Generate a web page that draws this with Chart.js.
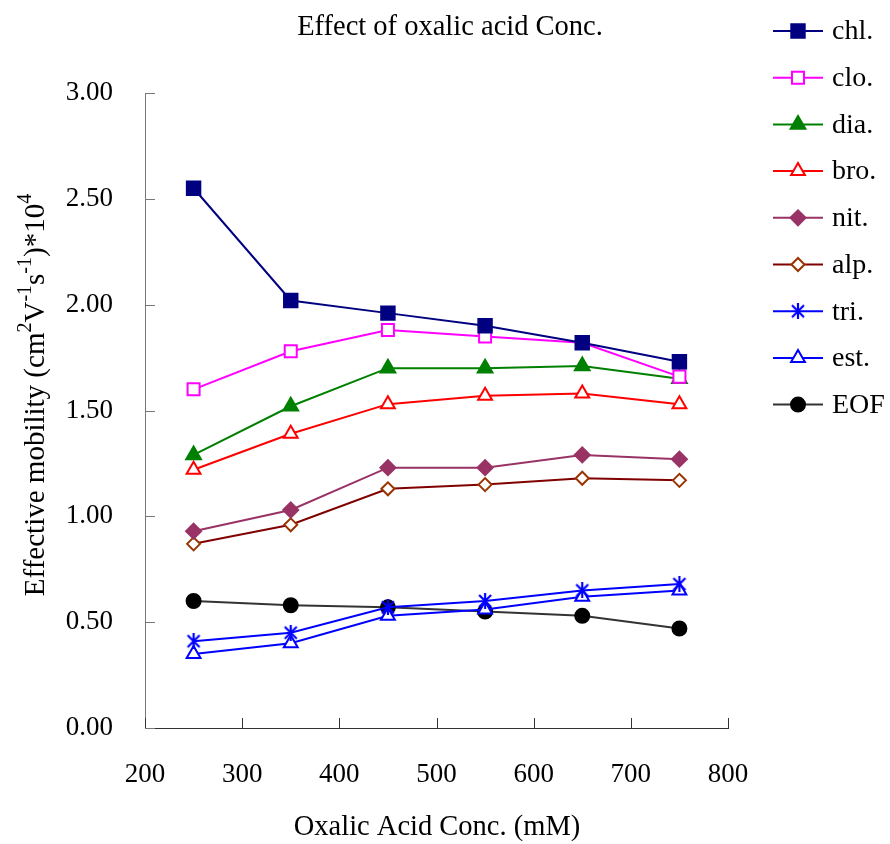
<!DOCTYPE html>
<html>
<head>
<meta charset="utf-8">
<script src="https://cdn.jsdelivr.net/npm/chart.js@4"></script>
<style>
  body { margin: 0; background: #fff; }
  canvas { display: block; }
</style>
</head>
<body>
<canvas id="chart" width="890" height="844"></canvas>
<script>
// concentrations (mM)
const conc = [250, 350, 450, 550, 650, 750];

// effective mobility values
const chl = [2.55, 2.02, 1.96, 1.90, 1.82, 1.73];
const clo = [1.60, 1.78, 1.88, 1.85, 1.82, 1.66];
const dia = [1.29, 1.52, 1.70, 1.70, 1.71, 1.65];
const bro = [1.22, 1.39, 1.53, 1.57, 1.58, 1.53];
const nit = [0.93, 1.03, 1.23, 1.23, 1.29, 1.27];
const alp = [0.87, 0.96, 1.13, 1.15, 1.18, 1.17];
const tri = [0.41, 0.45, 0.57, 0.60, 0.65, 0.68];
const est = [0.35, 0.40, 0.53, 0.56, 0.62, 0.65];
const eof = [0.60, 0.58, 0.57, 0.55, 0.53, 0.47];

const FONT = "'Liberation Serif', 'Times New Roman', serif";

// asterisk marker for tri.
const star = document.createElement("canvas");
star.width = 16; star.height = 16;
(function () {
  const c = star.getContext("2d");
  c.strokeStyle = "#0000FF";
  c.lineWidth = 2.2;
  c.beginPath();
  c.moveTo(2, 2); c.lineTo(14, 14);
  c.moveTo(14, 2); c.lineTo(2, 14);
  c.moveTo(8, 0); c.lineTo(8, 16);
  c.stroke();
})();

function series(label, values, line, style, fill, border, radius) {
  return {
    label: label,
    data: values.map((v, i) => ({ x: conc[i], y: v })),
    showLine: true,
    borderColor: line,
    borderWidth: 2,
    pointStyle: style,
    pointRadius: radius,
    pointBackgroundColor: fill,
    pointBorderColor: border,
    pointBorderWidth: 2,
  };
}

const datasets = [
  series("chl.", chl, "#000080", "rect", "#000080", "#000080", 9.5),
  series("clo.", clo, "#FF00FF", "rect", "#FFFFFF", "#FF00FF", 8.5),
  series("dia.", dia, "#008000", "triangle", "#008000", "#008000", 8.5),
  series("bro.", bro, "#FF0000", "triangle", "#FFFFFF", "#FF0000", 8),
  series("nit.", nit, "#993366", "rectRot", "#993366", "#993366", 7.5),
  series("alp.", alp, "#800000", "rectRot", "#FFFFFF", "#993300", 6.5),
  series("tri.", tri, "#0000FF", star, "#0000FF", "#0000FF", 8),
  series("est.", est, "#0000FF", "triangle", "#FFFFFF", "#0000FF", 8),
  series("EOF", eof, "#333333", "circle", "#000000", "#000000", 7),
];

// titles, inward tick marks and the legend with line + marker
const decorations = {
  id: "decorations",
  afterDraw(chart) {
    const ctx = chart.ctx;
    const xs = chart.scales.x, ys = chart.scales.y;
    const area = chart.chartArea;
    ctx.save();

    // inward ticks
    ctx.lineWidth = 1;
    ctx.strokeStyle = "#777";
    ys.ticks.forEach((t) => {
      const py = Math.round(ys.getPixelForValue(t.value)) + 0.5;
      ctx.beginPath();
      ctx.moveTo(area.left, py);
      ctx.lineTo(area.left + 10, py);
      ctx.stroke();
    });
    ctx.strokeStyle = "#333";
    xs.ticks.forEach((t) => {
      const px = Math.round(xs.getPixelForValue(t.value)) + 0.5;
      ctx.beginPath();
      ctx.moveTo(px, area.bottom);
      ctx.lineTo(px, area.bottom - 10);
      ctx.stroke();
    });

    ctx.fillStyle = "#000";
    ctx.font = "28.5px " + FONT;
    ctx.textAlign = "center";
    ctx.textBaseline = "middle";
    ctx.fillText("Effect of oxalic acid Conc.", 450, 28);
    ctx.fillText("Oxalic Acid Conc. (mM)", 437, 828);

    // y title with superscripts
    const parts = [
      ["Effective mobility (cm", false], ["2", true], ["V", false], ["-1", true],
      ["s", false], ["-1", true], [")*10", false], ["4", true],
    ];
    const big = "29px " + FONT, small = "20px " + FONT;
    let total = 0;
    parts.forEach((p) => { ctx.font = p[1] ? small : big; total += ctx.measureText(p[0]).width; });
    ctx.translate(36, 395);
    ctx.rotate(-Math.PI / 2);
    ctx.textAlign = "left";
    let cx = -total / 2;
    parts.forEach((p) => {
      ctx.font = p[1] ? small : big;
      ctx.fillText(p[0], cx, p[1] ? -10 : 0);
      cx += ctx.measureText(p[0]).width;
    });
    ctx.setTransform(1, 0, 0, 1, 0, 0);

    // legend
    ctx.font = "28px " + FONT;
    ctx.textAlign = "left";
    ctx.textBaseline = "middle";
    chart.data.datasets.forEach((ds, i) => {
      const y = 31 + i * 46.7;
      ctx.strokeStyle = ds.borderColor;
      ctx.lineWidth = 2;
      ctx.beginPath();
      ctx.moveTo(773, y);
      ctx.lineTo(823, y);
      ctx.stroke();
      ctx.fillStyle = ds.pointBackgroundColor;
      ctx.strokeStyle = ds.pointBorderColor;
      Chart.helpers.drawPoint(ctx, {
        pointStyle: ds.pointStyle, radius: ds.pointRadius, rotation: 0, borderWidth: 2,
      }, 798, y);
      ctx.fillStyle = "#000";
      ctx.fillText(ds.label, 832, y + 1);
    });
    ctx.restore();
  },
};

new Chart(document.getElementById("chart"), {
  type: "scatter",
  data: { datasets: datasets },
  options: {
    responsive: false,
    animation: false,
    devicePixelRatio: 1,
    layout: { padding: { top: 93, right: 162, left: 0, bottom: 0 } },
    plugins: { legend: { display: false }, tooltip: { enabled: false } },
    scales: {
      x: {
        type: "linear",
        min: 200,
        max: 800,
        ticks: { stepSize: 100, color: "#000", font: { family: FONT, size: 27 }, padding: 31 },
        grid: { display: false, drawTicks: false },
        border: { display: true, color: "#333", width: 1 },
        afterFit: (s) => { s.height = 116; },
      },
      y: {
        min: 0,
        max: 3,
        ticks: {
          stepSize: 0.5,
          color: "#000",
          font: { family: FONT, size: 27 },
          padding: 32,
          callback: (v) => v.toFixed(2),
        },
        grid: { display: false, drawTicks: false },
        border: { display: true, color: "#777", width: 1 },
        afterFit: (s) => { s.width = 145; },
      },
    },
  },
  plugins: [decorations],
});
</script>
</body>
</html>
